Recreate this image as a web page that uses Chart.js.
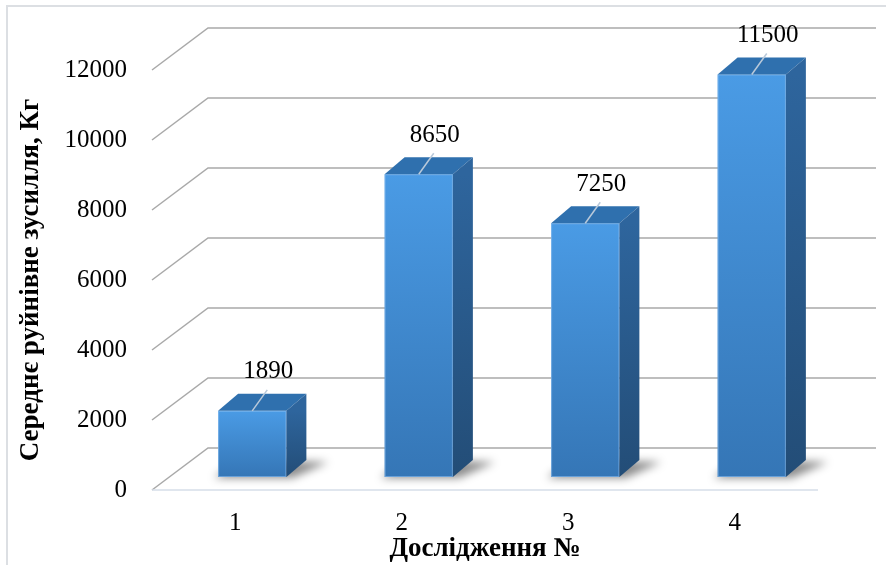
<!DOCTYPE html>
<html>
<head>
<meta charset="utf-8">
<script src="https://cdn.jsdelivr.net/npm/chart.js"></script>
<style>
  html, body { margin: 0; padding: 0; background: #fff; }
  #wrap { width: 886px; height: 565px; position: relative; }
</style>
</head>
<body>
<div id="wrap"><canvas id="grafica"></canvas></div>
<script>
// Datos
const categorias = ['1', '2', '3', '4'];
const valores = [1890, 8650, 7250, 11500];
const yMin = 0;
const yMax = 12000;
const yPaso = 2000;

const FUENTE = '"Liberation Serif", "Times New Roman", serif';

// desplazamientos del "3D" (pared, frente de barra, profundidad de barra)
const WX = 56, WY = -42;
const DX = 17, DY = -13;
const BX = 20, BY = -17;

// --- A. fondo, marco y pared con rejilla ---
const fondo3D = {
    id: 'fondo3D',
    beforeDraw(chart) {
        const ctx = chart.ctx;
        ctx.save();
        ctx.fillStyle = '#ffffff';
        ctx.fillRect(0, 0, chart.width, chart.height);
        ctx.strokeStyle = '#dcdfe3';
        ctx.lineWidth = 2;
        ctx.strokeRect(7, 6, chart.width + 20, chart.height + 20);
        ctx.restore();
    },
    beforeDatasetsDraw(chart) {
        const ctx = chart.ctx;
        const area = chart.chartArea;
        const y = chart.scales.y;
        ctx.save();
        ctx.lineWidth = 1.5;
        y.ticks.forEach(t => {
            const py = y.getPixelForValue(t.value);
            ctx.strokeStyle = '#a9a9a9';
            ctx.beginPath();
            ctx.moveTo(area.left, py);
            ctx.lineTo(area.left + WX, py + WY);
            ctx.lineTo(area.right + WX + 2, py + WY);
            ctx.stroke();
        });
        // suelo delantero
        const p0 = y.getPixelForValue(0);
        ctx.strokeStyle = '#d6dee8';
        ctx.beginPath();
        ctx.moveTo(area.left, p0);
        ctx.lineTo(area.right, p0);
        ctx.stroke();
        ctx.restore();
    }
};

// --- B. barras 3D y etiquetas ---
const barras3D = {
    id: 'barras3D',
    afterDatasetsDraw(chart) {
        const ctx = chart.ctx;
        const meta = chart.getDatasetMeta(0);
        meta.data.forEach((el, i) => {
            const x0 = el.x - el.width / 2 + DX;
            const x1 = el.x + el.width / 2 + DX;
            const top = el.y + DY;
            const bot = el.base + DY;

            // sombra en el suelo
            ctx.save();
            ctx.filter = 'blur(4px)';
            ctx.fillStyle = 'rgba(0,0,0,0.45)';
            ctx.beginPath();
            ctx.moveTo(x0 - 4, bot + 1);
            ctx.lineTo(x1 + 6, bot + 1);
            ctx.lineTo(x1 + BX + 22, bot + BY + 2);
            ctx.lineTo(x0 + BX, bot + BY);
            ctx.closePath();
            ctx.fill();
            ctx.restore();

            ctx.save();
            // cara frontal
            const gFrente = ctx.createLinearGradient(0, top, 0, bot);
            gFrente.addColorStop(0, '#4a9be5');
            gFrente.addColorStop(1, '#3576b6');
            ctx.fillStyle = gFrente;
            ctx.fillRect(x0, top, x1 - x0, bot - top);
            ctx.strokeStyle = 'rgba(140,190,240,0.6)';
            ctx.lineWidth = 1;
            ctx.strokeRect(x0 + 0.5, top + 0.5, x1 - x0 - 1, bot - top - 1);

            // cara superior
            ctx.fillStyle = '#2f70ae';
            ctx.beginPath();
            ctx.moveTo(x0, top);
            ctx.lineTo(x1, top);
            ctx.lineTo(x1 + BX, top + BY);
            ctx.lineTo(x0 + BX, top + BY);
            ctx.closePath();
            ctx.fill();

            // cara lateral
            const gLado = ctx.createLinearGradient(0, top, 0, bot);
            gLado.addColorStop(0, '#2e659d');
            gLado.addColorStop(1, '#234d77');
            ctx.fillStyle = gLado;
            ctx.beginPath();
            ctx.moveTo(x1, top);
            ctx.lineTo(x1 + BX, top + BY);
            ctx.lineTo(x1 + BX, bot + BY);
            ctx.lineTo(x1, bot);
            ctx.closePath();
            ctx.fill();

            // linea guia + etiqueta
            const xc = (x0 + x1) / 2;
            ctx.strokeStyle = '#b9c9da';
            ctx.lineWidth = 1.5;
            ctx.beginPath();
            ctx.moveTo(xc, top);
            ctx.lineTo(xc + 15, top - 21);
            ctx.stroke();

            ctx.fillStyle = '#000000';
            ctx.font = '25px ' + FUENTE;
            ctx.textAlign = 'center';
            ctx.textBaseline = 'middle';
            ctx.fillText(String(valores[i]), xc + 16, top - 39);
            ctx.restore();
        });
    }
};

const ctx = document.getElementById('grafica');

new Chart(ctx, {
    type: 'bar',
    data: {
        labels: categorias,
        datasets: [{
            data: valores,
            backgroundColor: 'rgba(0,0,0,0)',
            borderWidth: 0,
            barPercentage: 0.41,
            categoryPercentage: 1
        }]
    },
    options: {
        responsive: true,
        maintainAspectRatio: false,
        animation: false,
        layout: { padding: { left: 0, right: 68, top: 70, bottom: 0 } },
        plugins: {
            legend: { display: false },
            tooltip: { enabled: false }
        },
        scales: {
            x: {
                grid: { display: false, drawTicks: false },
                border: { display: false },
                afterFit: s => { s.height = 75; },
                ticks: {
                    color: '#000',
                    padding: 18,
                    font: { family: FUENTE, size: 25 }
                },
                title: {
                    display: true,
                    text: 'Дослідження №',
                    color: '#000',
                    padding: { top: 0, bottom: 0 },
                    font: { family: FUENTE, size: 27, weight: 'bold' }
                }
            },
            y: {
                min: yMin,
                max: yMax,
                grid: { display: false, drawTicks: false },
                border: { display: false },
                afterFit: s => { s.width = 152; },
                ticks: {
                    stepSize: yPaso,
                    color: '#000',
                    padding: 25,
                    font: { family: FUENTE, size: 25 },
                    callback: v => String(v)
                },
                title: {
                    display: true,
                    text: 'Середнє руйнівне зусилля, Кг',
                    color: '#000',
                    padding: { top: 15, bottom: 0 },
                    font: { family: FUENTE, size: 27, weight: 'bold' }
                }
            }
        }
    },
    plugins: [fondo3D, barras3D]
});
</script>
</body>
</html>
